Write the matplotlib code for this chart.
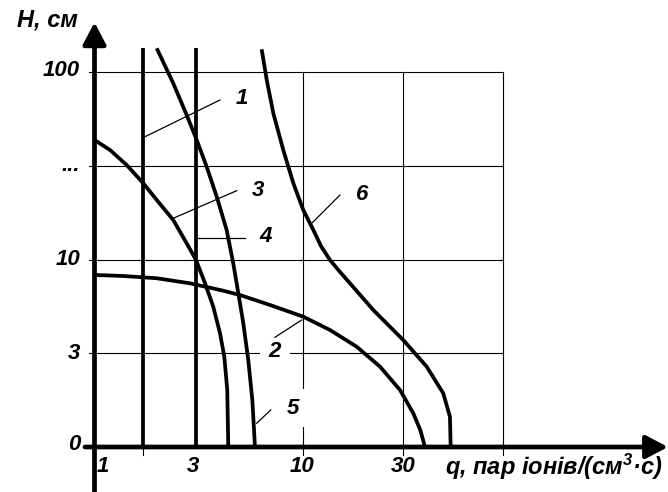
import matplotlib
matplotlib.use("Agg")
import matplotlib.pyplot as plt

plt.rcParams['font.family'] = ['Liberation Sans', 'DejaVu Sans']
plt.rcParams['mathtext.fontset'] = 'custom'
plt.rcParams['mathtext.it'] = 'Liberation Sans:italic:bold'
plt.rcParams['mathtext.rm'] = 'Liberation Sans:italic:bold'

# ---- дані (в одиницях клітинок сітки: x=0 -> q=1, y=0 -> H=0) ----
x_ticks = [0.084, 0.970, 2.044, 3.039]
x_tick_labels = ["1", "3", "10", "30"]
y_ticks = [0.03, 1.0, 2.0, 3.0, 4.02]
y_tick_labels = ["0", "3", "10", "...", "100"]
x_grid = [2.051, 3.042, 4.025]
y_grid = [1.0, 2.0, 3.0, 4.0]
x_small_ticks = [0.481]

# криві 1 і 4 - вертикальні прямі
line1_x = [0.481, 0.481]
line1_y = [0, 4.253]
line4_x = [0.997, 0.997]
line4_y = [0, 4.253]

curve2_x = [0, 0.284, 0.613, 0.941, 1.269, 1.433, 1.729, 2.057, 2.320,
            2.583, 2.813, 3.010, 3.141, 3.210, 3.256]
curve2_y = [1.835, 1.824, 1.800, 1.746, 1.667, 1.621, 1.515, 1.390, 1.248,
            1.070, 0.857, 0.608, 0.359, 0.180, 0.0]

curve3_x = [0, 0.153, 0.317, 0.481, 0.613, 0.776, 0.908, 1.000, 1.089,
            1.170, 1.236, 1.279, 1.308, 1.318]
curve3_y = [3.275, 3.168, 3.008, 2.813, 2.635, 2.421, 2.173, 1.995, 1.746,
            1.497, 1.216, 0.963, 0.608, 0.0]

curve5_x = [0.613, 0.776, 0.908, 1.007, 1.105, 1.204, 1.302, 1.367, 1.417,
            1.466, 1.515, 1.555, 1.581]
curve5_y = [4.253, 3.879, 3.541, 3.275, 2.990, 2.670, 2.315, 1.960, 1.640,
            1.320, 0.928, 0.501, 0.0]

curve6_x = [1.647, 1.697, 1.762, 1.860, 1.959, 2.057, 2.156, 2.231, 2.320,
            2.419, 2.517, 2.747, 3.042, 3.273, 3.436, 3.502, 3.509]
curve6_y = [4.242, 3.915, 3.559, 3.168, 2.813, 2.528, 2.315, 2.144, 1.995,
            1.867, 1.746, 1.461, 1.141, 0.857, 0.573, 0.323, 0.0]

# виноски: (номер, початок лінії, кінець лінії, позиція підпису)
callouts = [
    ("1", (0.498, 3.310), (1.236, 3.701), (1.450, 3.720)),
    ("3", (0.776, 2.440), (1.401, 2.734), (1.611, 2.741)),
    ("4", (1.023, 2.233), (1.483, 2.233), (1.690, 2.243)),
    ("6", (2.123, 2.368), (2.419, 2.688), (2.633, 2.688)),
    ("2", (2.041, 1.355), (1.778, 1.170), (1.778, 1.017)),
    ("5", (1.598, 0.253), (1.736, 0.395), (1.953, 0.413)),
]

fig = plt.figure(figsize=(6.68, 4.92), dpi=100)
ax = fig.add_axes([0, 0, 1, 1])
ax.set_xlim(-94.5 / 101.5, 573.5 / 101.5)
ax.set_ylim(-45 / 93.75, 447 / 93.75)
ax.axis('off')

font = dict(fontweight='bold', fontstyle='italic', color='black')

# сітка
for gy in y_grid:
    ax.plot([-0.05, x_grid[-1]], [gy, gy], color='black', lw=0.8, zorder=1)
for gx in x_grid:
    ax.plot([gx, gx], [-0.09, y_grid[-1]], color='black', lw=0.8, zorder=1)
for tx in x_small_ticks:
    ax.plot([tx, tx], [-0.09, 0], color='black', lw=0.8, zorder=1)

# криві
kw = dict(color='black', lw=2.7, solid_capstyle='butt', solid_joinstyle='round', zorder=3)
ax.plot(line1_x, line1_y, **kw)
ax.plot(line4_x, line4_y, **kw)
ax.plot(curve2_x, curve2_y, **kw)
ax.plot(curve3_x, curve3_y, **kw)
ax.plot(curve5_x, curve5_y, **kw)
ax.plot(curve6_x, curve6_y, **kw)

# виноски з підписами (біле тло перекриває сітку)
for lab, p0, p1, pt in callouts:
    ax.plot([p0[0], p1[0]], [p0[1], p1[1]], color='black', lw=0.9, zorder=4)
    ax.text(pt[0], pt[1], lab, fontsize=16, ha='center', va='center', zorder=2,
            bbox=dict(facecolor='white', edgecolor='none', pad=6), **font)

# осі зі стрілками
arrow = dict(arrowstyle="-|>,head_length=0.95,head_width=0.5",
             lw=3.4, color='black', shrinkA=0, shrinkB=0, mutation_scale=14)
ax.annotate("", xy=(0, 4.53), xytext=(0, -0.48), arrowprops=arrow, zorder=6)
ax.annotate("", xy=(5.65, 0), xytext=(-0.094, 0), arrowprops=arrow, zorder=6)

# підписи поділок
for xv, lab in zip(x_ticks, x_tick_labels):
    ax.text(xv, -0.213, lab, fontsize=16, ha='center', va='center', **font)
for yv, lab in zip(y_ticks, y_tick_labels):
    ax.text(-0.143, yv, lab, fontsize=16, ha='right', va='center', **font)

ax.text(-0.468, 4.555, "H, см", fontsize=17, ha='center', va='center', **font)
ax.text(3.453, -0.213, r"q, пар іонів/(см$^{3}$·с)", fontsize=17, ha='left',
        va='center', **font)

fig.savefig("out.png", dpi=100)
